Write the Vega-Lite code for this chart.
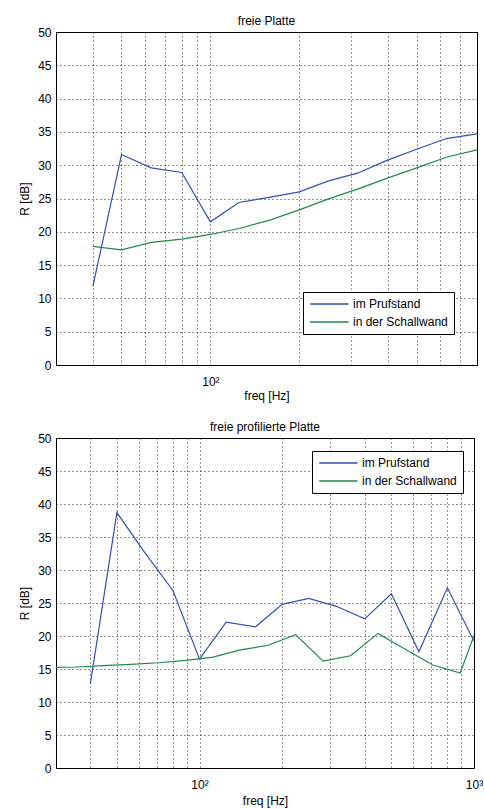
{
  "$schema": "https://vega.github.io/schema/vega-lite/v6.json",
  "background": "white",
  "padding": {"left": 18, "top": 14, "right": 4, "bottom": 2},
  "spacing": 18,
  "config": {
    "font": "Liberation Sans",
    "view": {"stroke": "#000", "strokeWidth": 1},
    "axis": {
      "domain": false, "ticks": false,
      "labelFont": "Liberation Sans", "labelFontSize": 12, "labelColor": "#000",
      "titleFont": "Liberation Sans", "titleFontSize": 12, "titleFontWeight": "normal", "titleColor": "#000",
      "grid": true, "gridColor": "#000", "gridDash": [1, 3], "gridOpacity": 0.85, "gridWidth": 1
    },
    "title": {"font": "Liberation Sans", "fontSize": 12, "fontWeight": "normal", "color": "#000", "offset": -2},
    "legend": {
      "orient": "none", "title": null,
      "strokeColor": "#000", "fillColor": "#fff", "padding": 6, "cornerRadius": 0,
      "symbolType": "M-1,0H7", "symbolSize": 92, "symbolStrokeWidth": 1.5,
      "labelFont": "Liberation Sans", "labelFontSize": 12, "labelColor": "#000",
      "labelOffset": 32, "rowPadding": 6
    }
  },
  "datasets": {
    "top": [
      {"f": 40, "R": 11.8, "s": "im Prufstand"},
      {"f": 50, "R": 31.6, "s": "im Prufstand"},
      {"f": 63, "R": 29.6, "s": "im Prufstand"},
      {"f": 80, "R": 28.9, "s": "im Prufstand"},
      {"f": 100, "R": 21.5, "s": "im Prufstand"},
      {"f": 125, "R": 24.4, "s": "im Prufstand"},
      {"f": 160, "R": 25.2, "s": "im Prufstand"},
      {"f": 200, "R": 26.0, "s": "im Prufstand"},
      {"f": 250, "R": 27.6, "s": "im Prufstand"},
      {"f": 315, "R": 28.8, "s": "im Prufstand"},
      {"f": 400, "R": 30.8, "s": "im Prufstand"},
      {"f": 500, "R": 32.4, "s": "im Prufstand"},
      {"f": 630, "R": 34.0, "s": "im Prufstand"},
      {"f": 800, "R": 34.7, "s": "im Prufstand"},
      {"f": 40, "R": 17.8, "s": "in der Schallwand"},
      {"f": 50, "R": 17.3, "s": "in der Schallwand"},
      {"f": 63, "R": 18.4, "s": "in der Schallwand"},
      {"f": 80, "R": 18.9, "s": "in der Schallwand"},
      {"f": 100, "R": 19.6, "s": "in der Schallwand"},
      {"f": 125, "R": 20.5, "s": "in der Schallwand"},
      {"f": 160, "R": 21.8, "s": "in der Schallwand"},
      {"f": 200, "R": 23.3, "s": "in der Schallwand"},
      {"f": 250, "R": 24.9, "s": "in der Schallwand"},
      {"f": 315, "R": 26.4, "s": "in der Schallwand"},
      {"f": 400, "R": 28.1, "s": "in der Schallwand"},
      {"f": 500, "R": 29.6, "s": "in der Schallwand"},
      {"f": 630, "R": 31.2, "s": "in der Schallwand"},
      {"f": 800, "R": 32.3, "s": "in der Schallwand"}
    ],
    "bottom": [
      {"f": 40, "R": 12.7, "s": "im Prufstand"},
      {"f": 50, "R": 38.7, "s": "im Prufstand"},
      {"f": 63, "R": 32.7, "s": "im Prufstand"},
      {"f": 80, "R": 26.9, "s": "im Prufstand"},
      {"f": 100, "R": 16.5, "s": "im Prufstand"},
      {"f": 125, "R": 22.1, "s": "im Prufstand"},
      {"f": 160, "R": 21.4, "s": "im Prufstand"},
      {"f": 200, "R": 24.8, "s": "im Prufstand"},
      {"f": 250, "R": 25.7, "s": "im Prufstand"},
      {"f": 315, "R": 24.5, "s": "im Prufstand"},
      {"f": 400, "R": 22.6, "s": "im Prufstand"},
      {"f": 500, "R": 26.4, "s": "im Prufstand"},
      {"f": 630, "R": 17.6, "s": "im Prufstand"},
      {"f": 800, "R": 27.3, "s": "im Prufstand"},
      {"f": 1000, "R": 19.2, "s": "im Prufstand"},
      {"f": 30, "R": 15.25, "s": "in der Schallwand"},
      {"f": 35.5, "R": 15.3, "s": "in der Schallwand"},
      {"f": 44.7, "R": 15.5, "s": "in der Schallwand"},
      {"f": 56.2, "R": 15.7, "s": "in der Schallwand"},
      {"f": 70.8, "R": 15.95, "s": "in der Schallwand"},
      {"f": 89.1, "R": 16.3, "s": "in der Schallwand"},
      {"f": 112, "R": 16.8, "s": "in der Schallwand"},
      {"f": 141, "R": 17.9, "s": "in der Schallwand"},
      {"f": 178, "R": 18.6, "s": "in der Schallwand"},
      {"f": 224, "R": 20.2, "s": "in der Schallwand"},
      {"f": 282, "R": 16.2, "s": "in der Schallwand"},
      {"f": 355, "R": 17.0, "s": "in der Schallwand"},
      {"f": 447, "R": 20.4, "s": "in der Schallwand"},
      {"f": 562, "R": 18.0, "s": "in der Schallwand"},
      {"f": 708, "R": 15.6, "s": "in der Schallwand"},
      {"f": 891, "R": 14.4, "s": "in der Schallwand"},
      {"f": 1000, "R": 20.1, "s": "in der Schallwand"}
    ]
  },
  "resolve": {"scale": {"color": "independent"}, "legend": {"color": "independent"}},
  "vconcat": [
    {
      "title": "freie Platte",
      "width": 421, "height": 333,
      "data": {"name": "top"},
      "mark": {"type": "line", "strokeWidth": 1.2, "clip": true},
      "encoding": {
        "x": {"field": "f", "type": "quantitative",
          "scale": {"type": "log", "domain": [30, 800], "nice": false},
          "axis": {"title": "freq [Hz]", "values": [40, 50, 60, 70, 80, 90, 100, 200, 300, 400, 500, 600, 700, 800],
            "labelExpr": "datum.value == 100 ? '10²' : ''", "labelPadding": 11, "titlePadding": 3, "labelFlush": false, "labelOverlap": false}},
        "y": {"field": "R", "type": "quantitative",
          "scale": {"domain": [0, 50], "nice": false},
          "axis": {"title": "R [dB]", "values": [0, 5, 10, 15, 20, 25, 30, 35, 40, 45, 50], "labelPadding": 5, "titlePadding": 6}},
        "color": {"field": "s", "type": "nominal",
          "scale": {"domain": ["im Prufstand", "in der Schallwand"], "range": ["#3050b8", "#1a8a4a"]},
          "legend": {"legendX": 247, "legendY": 260}}
      }
    },
    {
      "title": "freie profilierte Platte",
      "width": 418, "height": 330,
      "data": {"name": "bottom"},
      "mark": {"type": "line", "strokeWidth": 1.2, "clip": true},
      "encoding": {
        "x": {"field": "f", "type": "quantitative",
          "scale": {"type": "log", "domain": [30, 1000], "nice": false},
          "axis": {"title": "freq [Hz]", "values": [40, 50, 60, 70, 80, 90, 100, 200, 300, 400, 500, 600, 700, 800, 900, 1000],
            "labelExpr": "datum.value == 100 ? '10²' : datum.value == 1000 ? '10³' : ''", "labelPadding": 11, "titlePadding": 5, "labelFlush": false, "labelOverlap": false}},
        "y": {"field": "R", "type": "quantitative",
          "scale": {"domain": [0, 50], "nice": false},
          "axis": {"title": "R [dB]", "values": [0, 5, 10, 15, 20, 25, 30, 35, 40, 45, 50], "labelPadding": 5, "titlePadding": 6}},
        "color": {"field": "s", "type": "nominal",
          "scale": {"domain": ["im Prufstand", "in der Schallwand"], "range": ["#3050b8", "#1a8a4a"]},
          "legend": {"legendX": 256, "legendY": 13}}
      }
    }
  ]
}
